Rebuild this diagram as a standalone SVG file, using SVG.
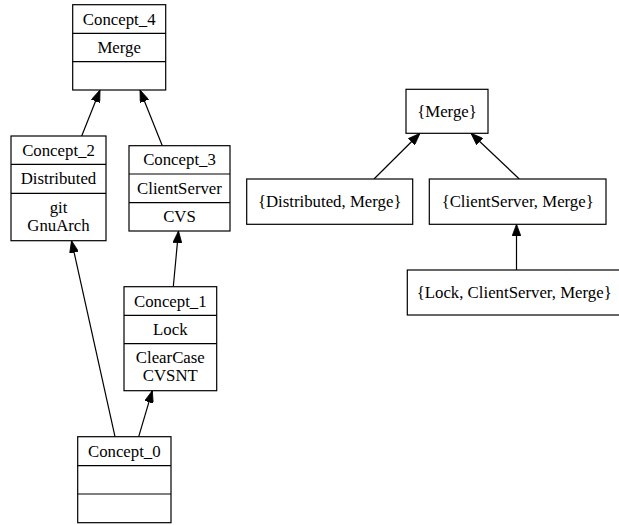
<svg xmlns="http://www.w3.org/2000/svg" width="619" height="525" viewBox="0 0 619 525">
<style>
rect.n{fill:#fff;stroke:#000;stroke-width:1.2}
line.d{stroke:#000;stroke-width:1.2}
text{font-size:16.8px;text-anchor:middle;fill:#000}
.e{stroke:#000;stroke-width:1.2;fill:none;marker-end:url(#ah)}
</style>
<defs>
<marker id="ah" viewBox="0 0 12 9" refX="12" refY="4.5" markerWidth="12" markerHeight="9" markerUnits="userSpaceOnUse" orient="auto">
<path d="M0,0 L12,4.5 L0,9 z" fill="#000" stroke="#000" stroke-width="0.8"/>
</marker>
</defs>
<rect width="619" height="525" fill="#fff"/>
<g font-family="Liberation Serif, Times New Roman, serif">
<g id="connectors">
<line class="e" x1="81.7" y1="136" x2="100" y2="90"/>
<line class="e" x1="162.3" y1="145.7" x2="140" y2="90"/>
<line class="e" x1="115" y1="436.7" x2="71.5" y2="240.7"/>
<line class="e" x1="138.7" y1="436.7" x2="152.3" y2="390.7"/>
<line class="e" x1="173.3" y1="286.7" x2="178.5" y2="231"/>
<line class="e" x1="374" y1="179" x2="420" y2="133.3"/>
<line class="e" x1="519.3" y1="179" x2="471" y2="133.3"/>
<line class="e" x1="516.5" y1="270" x2="516.5" y2="224.3"/>
</g>
<g id="Concept_4">
<rect class="n" x="72.7" y="4.7" width="93" height="85.3"/>
<line class="d" x1="72.7" y1="33.3" x2="165.7" y2="33.3"/>
<line class="d" x1="72.7" y1="61.7" x2="165.7" y2="61.7"/>
<text x="119.2" y="24.5">Concept_4</text>
<text x="119.2" y="53">Merge</text>
</g>
<g id="Concept_2">
<rect class="n" x="11" y="136" width="95" height="104.7"/>
<line class="d" x1="11" y1="164.3" x2="106" y2="164.3"/>
<line class="d" x1="11" y1="193.3" x2="106" y2="193.3"/>
<text x="58.5" y="155.7">Concept_2</text>
<text x="58.5" y="184.3">Distributed</text>
<text x="58.5" y="212.5">git</text>
<text x="58.5" y="231">GnuArch</text>
</g>
<g id="Concept_3">
<rect class="n" x="129" y="145.7" width="101" height="85.3"/>
<line class="d" x1="129" y1="174" x2="230" y2="174"/>
<line class="d" x1="129" y1="202.7" x2="230" y2="202.7"/>
<text x="179.5" y="165.4">Concept_3</text>
<text x="179.5" y="193.8">ClientServer</text>
<text x="179.5" y="222.4">CVS</text>
</g>
<g id="Concept_1">
<rect class="n" x="124" y="286.7" width="92.7" height="104"/>
<line class="d" x1="124" y1="315.3" x2="216.7" y2="315.3"/>
<line class="d" x1="124" y1="343.7" x2="216.7" y2="343.7"/>
<text x="170.3" y="306.5">Concept_1</text>
<text x="170.3" y="335">Lock</text>
<text x="170.3" y="362.7">ClearCase</text>
<text x="170.3" y="381">CVSNT</text>
</g>
<g id="Concept_0">
<rect class="n" x="77.7" y="436.7" width="93.3" height="86"/>
<line class="d" x1="77.7" y1="465.7" x2="171" y2="465.7"/>
<line class="d" x1="77.7" y1="494" x2="171" y2="494"/>
<text x="124.3" y="456.7">Concept_0</text>
</g>
<g id="Merge">
<rect class="n" x="406" y="89.3" width="82" height="44"/>
<text x="447" y="116.8">{Merge}</text>
</g>
<g id="Distributed_Merge">
<rect class="n" x="246.7" y="179" width="166" height="45.3"/>
<text x="329.7" y="207.2">{Distributed, Merge}</text>
</g>
<g id="ClientServer_Merge">
<rect class="n" x="429.3" y="179" width="176.7" height="45.3"/>
<text x="517.7" y="207.2">{ClientServer, Merge}</text>
</g>
<g id="Lock_ClientServer_Merge">
<rect class="n" x="407.3" y="270" width="214" height="45"/>
<text x="514.2" y="298">{Lock, ClientServer, Merge}</text>
</g>
</g>
</svg>
